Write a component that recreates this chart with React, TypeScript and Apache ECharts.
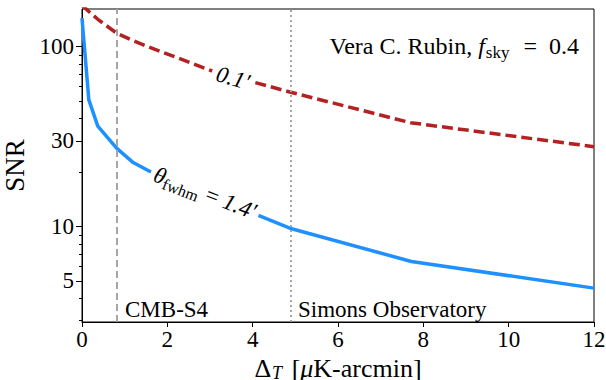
import React, { useEffect, useRef } from 'react';
import * as echarts from 'echarts';

// ---- data ----
const xTickValues = [0, 2, 4, 6, 8, 10, 12];
const yMajorTicks = [5, 10, 30, 100];
const yMinorTicks = [3, 4, 6, 7, 8, 9, 20, 40, 50, 60, 70, 80, 90];
// SNR vs noise level for beam 1.4'
const beam14Noise = [0, 0.16, 0.37, 0.81, 1.2, 1.55, 4.87, 7.72, 12];
const beam14SNR = [144, 50.6, 36.2, 27.3, 22.7, 20.5, 9.8, 6.4, 4.55];
// SNR vs noise level for beam 0.1'
const beam01Noise = [0, 0.16, 0.37, 0.81, 1.2, 1.55, 3.0, 4.87, 7.7, 12];
const beam01SNR = [170, 157, 142, 119, 108, 100, 74, 56, 37.8, 27.8];
const cmbS4Noise = 0.82;
const simonsNoise = 4.89;

const FONT = 'Liberation Serif';

export default function App() {
  const ref = useRef<HTMLDivElement>(null);
  useEffect(() => {
    document.body.style.margin = '0';
    const chart = echarts.init(ref.current!, null, { renderer: 'svg' });
    const blueData = beam14Noise.map((x, i) => [x, beam14SNR[i]]);
    const redData = beam01Noise.map((x, i) => [x, beam01SNR[i]]);
    const yBase = {
      type: 'log',
      logBase: 10,
      min: 2.95,
      max: 162,
      position: 'left',
      splitLine: { show: false },
      minorTick: { show: false },
    };
    chart.setOption({
      animation: false,
      textStyle: { fontFamily: FONT },
      grid: {
        left: 82,
        right: 12,
        top: 9,
        bottom: 58,
        containLabel: false,
        outerBoundsMode: 'none',
        show: true,
        borderColor: '#000',
        borderWidth: 1,
        backgroundColor: 'transparent',
      },
      xAxis: {
        type: 'value',
        min: 0,
        max: 12,
        interval: 2,
        axisLine: { show: true, lineStyle: { color: '#000', width: 1 } },
        axisTick: { show: true, inside: false, length: 5, lineStyle: { color: '#000' }, customValues: xTickValues },
        axisLabel: { color: '#000', fontFamily: FONT, fontSize: 23, margin: 6, customValues: xTickValues },
        splitLine: { show: false },
        name: '{n|Δ}{sub|T}{n| [}{i|μ}{n|K-arcmin]}',
        nameLocation: 'middle',
        nameGap: 17,
        nameTextStyle: {
          color: '#000',
          fontFamily: FONT,
          fontSize: 26,
          rich: {
            n: { fontFamily: FONT, fontSize: 26, color: '#000' },
            i: { fontFamily: FONT, fontSize: 26, fontStyle: 'italic', color: '#000' },
            sub: { fontFamily: FONT, fontSize: 18, fontStyle: 'italic', color: '#000', verticalAlign: 'bottom', padding: [9, 3, 0, 1] },
          },
        },
      },
      yAxis: [
        {
          ...yBase,
          axisLine: { show: true, lineStyle: { color: '#000', width: 1 } },
          axisTick: { show: true, inside: false, length: 6, lineStyle: { color: '#000' }, customValues: yMajorTicks },
          axisLabel: { color: '#000', fontFamily: FONT, fontSize: 23, margin: 8, customValues: yMajorTicks },
          name: 'SNR',
          nameLocation: 'middle',
          nameGap: 48,
          nameRotate: 90,
          nameTextStyle: { color: '#000', fontFamily: FONT, fontSize: 27 },
        },
        {
          ...yBase,
          axisLine: { show: false },
          axisTick: { show: true, inside: false, length: 3, lineStyle: { color: '#000' }, customValues: yMinorTicks },
          axisLabel: { show: false },
        },
      ],
      series: [
        {
          type: 'line',
          data: redData,
          yAxisIndex: 0,
          showSymbol: false,
          symbol: 'none',
          lineStyle: { color: '#B22222', width: 3.5, type: [11, 5] },
          z: 3,
        },
        {
          type: 'line',
          data: blueData,
          yAxisIndex: 0,
          showSymbol: false,
          symbol: 'none',
          lineStyle: { color: '#1E90FF', width: 3.5 },
          z: 3,
          markLine: {
            silent: true,
            symbol: ['none', 'none'],
            label: { show: false },
            data: [
              { xAxis: cmbS4Noise, lineStyle: { color: '#a6a6a6', width: 2, type: [7, 4] } },
              { xAxis: simonsNoise, lineStyle: { color: '#a6a6a6', width: 2, type: [2, 3] } },
            ],
          },
        },
      ],
      graphic: [
        {
          type: 'text',
          x: 579,
          y: 46,
          z: 100,
          style: {
            text: '{n|Vera C. Rubin, }{i|f}{sub|sky}{n|  =  0.4}',
            align: 'right',
            verticalAlign: 'middle',
            fill: '#000',
            font: `24px ${FONT}`,
            rich: {
              n: { fontFamily: FONT, fontSize: 24, fill: '#000' },
              i: { fontFamily: FONT, fontSize: 24, fontStyle: 'italic', fill: '#000' },
              sub: { fontFamily: FONT, fontSize: 17, fill: '#000', verticalAlign: 'bottom', padding: [12, 2, 0, 1] },
            },
          },
        },
        {
          type: 'text',
          x: 125,
          y: 309,
          z: 100,
          style: { text: 'CMB-S4', fill: '#000', font: `23px ${FONT}`, align: 'left', verticalAlign: 'middle' },
        },
        {
          type: 'text',
          x: 298,
          y: 309,
          z: 100,
          style: { text: 'Simons Observatory', fill: '#000', font: `23px ${FONT}`, align: 'left', verticalAlign: 'middle' },
        },
        {
          type: 'text',
          x: 233,
          y: 78,
          z: 100,
          rotation: (-16 * Math.PI) / 180,
          style: {
            text: '0.1′',
            fill: '#000',
            font: `italic 23px ${FONT}`,
            align: 'center',
            verticalAlign: 'middle',
            backgroundColor: '#fff',
            padding: [0, 5],
          },
        },
        {
          type: 'text',
          x: 205,
          y: 193,
          z: 100,
          rotation: (-21 * Math.PI) / 180,
          style: {
            text: '{i|θ}{sub|fwhm}{n| = }{i|1.4′}',
            align: 'center',
            verticalAlign: 'middle',
            backgroundColor: '#fff',
            padding: [0, 4],
            rich: {
              n: { fontFamily: FONT, fontSize: 23, fill: '#000' },
              i: { fontFamily: FONT, fontSize: 23, fontStyle: 'italic', fill: '#000' },
              sub: { fontFamily: FONT, fontSize: 16, fill: '#000', verticalAlign: 'bottom', padding: [12, 1, 0, 0] },
            },
          },
        },
      ],
    });
    return () => chart.dispose();
  }, []);
  return <div ref={ref} style={{ width: 606, height: 380, position: 'absolute', left: 0, top: 0 }} />;
}
